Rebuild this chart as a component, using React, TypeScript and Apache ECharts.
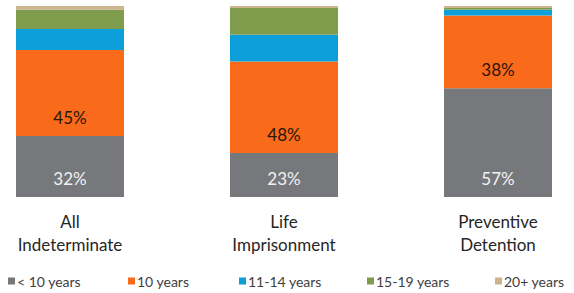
import React, { useEffect, useRef } from "react";
import * as echarts from "echarts";

const categories = ["All\nIndeterminate", "Life\nImprisonment", "Preventive\nDetention"];
const seriesNames = ["< 10 years", "10 years", "11-14 years", "15-19 years", "20+ years"];
const under10 = [32, 23, 57];
const ten = [45, 48, 38];
const elevenTo14 = [11, 14, 3];
const fifteenTo19 = [10, 14, 1];
const twentyPlus = [2, 1, 1];
const colors = ["#77787b", "#f96a1b", "#0c9fd9", "#7f9b4c", "#cbb48e"];
const legendLefts = [8, 128, 239, 367, 495];

export default function App() {
  const ref = useRef<HTMLDivElement>(null);
  useEffect(() => {
    if (!ref.current) return;
    const chart = echarts.init(ref.current, null, { renderer: "svg" });
    const values = [under10, ten, elevenTo14, fifteenTo19, twentyPlus];
    const font = "Lato, 'Open Sans', sans-serif";
    chart.setOption({
      animation: false,
      textStyle: { fontFamily: font },
      grid: { left: 70, right: 76, top: 6, bottom: 96, containLabel: false },
      xAxis: {
        type: "category",
        data: categories,
        boundaryGap: false,
        axisLine: { show: false },
        axisTick: { show: false },
        axisLabel: { color: "#262626", fontSize: 17, lineHeight: 23, margin: 13, fontFamily: font },
      },
      yAxis: { type: "value", min: 0, max: 100, show: false, splitLine: { show: false } },
      legend: seriesNames.map((n, i) => ({
        data: [n],
        left: legendLefts[i],
        top: 274,
        itemWidth: 7,
        itemHeight: 7,
        icon: "rect",
        itemGap: 0,
        textStyle: { fontSize: 14, color: "#404040", fontFamily: font, padding: [0, 0, 0, -3] },
        padding: 0,
      })),
      series: seriesNames.map((n, i) => ({
        name: n,
        type: "bar",
        stack: "total",
        barWidth: 108,
        data: values[i],
        itemStyle: { color: colors[i] },
        label:
          i < 2
            ? {
                show: true,
                position: "insideBottom",
                distance: 10,
                formatter: "{c}%",
                fontSize: 17,
                fontFamily: font,
                color: i === 0 ? "#f2f2f2" : "#2a1608",
              }
            : { show: false },
      })),
    });
    return () => chart.dispose();
  }, []);
  return <div ref={ref} style={{ width: 574, height: 293, position: "absolute", left: 0, top: 0 }} />;
}
